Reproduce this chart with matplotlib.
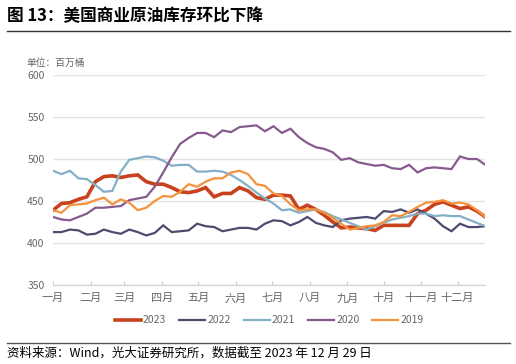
import numpy as np
import matplotlib
matplotlib.use("Agg")
import matplotlib.pyplot as plt

plt.rcParams['font.family'] = ['Noto Sans CJK SC', 'DejaVu Sans']

# weekly US commercial crude inventories, million barrels
years = ['2023', '2022', '2021', '2020', '2019']
v2023 = [439, 447, 448, 452, 455, 473, 479, 480, 478, 480, 481, 473, 470, 470, 466, 461,
         460, 462, 466, 455, 459, 459, 466, 462, 454, 452, 457, 457, 456, 440, 445, 440,
         433, 425, 418, 419, 418, 417, 415, 421, 421, 421, 421, 435, 439, 446, 449, 445,
         441, 443, 438, 431]
v2022 = [413, 413, 416, 415, 410, 411, 416, 413, 411, 416, 413, 409, 412, 421, 413, 414,
         415, 423, 420, 419, 414, 416, 418, 418, 416, 423, 427, 426, 421, 425, 431, 424,
         421, 419, 427, 429, 430, 431, 429, 438, 437, 440, 436, 440, 435, 429, 420, 414,
         423, 419, 419, 420]
v2021 = [486, 482, 486, 477, 476, 469, 461, 462, 485, 499, 501, 503, 502, 498, 492, 493,
         493, 485, 485, 486, 485, 481, 475, 468, 460, 453, 447, 439, 440, 436, 438, 440,
         437, 432, 428, 424, 420, 416, 420, 424, 428, 430, 432, 435, 435, 432, 433, 432,
         432, 428, 424, 420]
v2020 = [431, 428, 427, 431, 435, 442, 442, 443, 444, 451, 453, 455, 467, 484, 502, 518,
         525, 531, 531, 526, 534, 532, 538, 539, 540, 533, 539, 531, 536, 526, 519, 514,
         512, 508, 499, 501, 496, 494, 492, 493, 489, 488, 493, 484, 489, 490, 489, 488,
         503, 500, 500, 493]
v2019 = [439, 436, 445, 446, 447, 451, 454, 446, 452, 448, 439, 442, 450, 456, 455, 461,
         470, 467, 473, 477, 477, 484, 486, 482, 470, 468, 459, 456, 446, 439, 440, 440,
         436, 430, 423, 416, 418, 420, 421, 425, 433, 432, 437, 443, 448, 449, 451, 447,
         448, 446, 439, 431]
series = [v2023, v2022, v2021, v2020, v2019]
colors = ['#C8421E', '#4D4B70', '#82B0C6', '#87598F', '#F5923C']
widths = [2.6, 1.6, 1.6, 1.6, 1.6]

months = ['一月', '二月', '三月', '四月', '五月', '六月',
          '七月', '八月', '九月', '十月', '十一月', '十二月']
month_start_day = [0, 31, 59, 90, 120, 151, 181, 212, 243, 273, 304, 334]

fig = plt.figure(figsize=(5.16, 3.64), dpi=100)
ax = fig.add_axes([0.1027, 0.217, 0.838, 0.577])

weeks = np.arange(len(v2023))
for name, vals, c, lw in zip(years, series, colors, widths):
    ax.plot(weeks, vals, color=c, lw=lw, label=name, solid_joinstyle='miter')

ax.set_xlim(0, 51)
ax.set_ylim(350, 600)
ax.set_yticks(range(350, 601, 50))
ax.set_xticks(np.array(month_start_day) / 7)
ax.set_xticklabels(months)
ax.tick_params(axis='y', length=0, labelsize=7.5, labelcolor='#666666', pad=6)
ax.tick_params(axis='x', direction='in', length=3, color='#cccccc',
               labelsize=8, labelcolor='#666666', pad=6)
ax.grid(axis='y', color='#e3e3e3', lw=1)
ax.set_axisbelow(True)
for s in ['top', 'right', 'left']:
    ax.spines[s].set_visible(False)
ax.spines['bottom'].set_color('#d9d9d9')
ax.spines['bottom'].set_linewidth(1)

leg = ax.legend(loc='upper center', bbox_to_anchor=(0.5, -0.1), ncol=5,
                frameon=False, fontsize=7.5, handlelength=2.5, handletextpad=0.2,
                columnspacing=1.25)
for t in leg.get_texts():
    t.set_color('#666666')

fig.text(0.014, 0.957, '图 13：美国商业原油库存环比下降', fontsize=12,
         fontweight='bold', va='center', ha='left')
fig.add_artist(plt.Line2D([0.014, 0.988], [0.915, 0.915], color='#333333', lw=1))
fig.text(0.052, 0.826, '单位：百万桶', fontsize=7, color='#666666', va='center')
fig.add_artist(plt.Line2D([0.014, 0.988], [0.058, 0.058], color='#555555', lw=1))
fig.text(0.014, 0.03, '资料来源：Wind，光大证券研究所，数据截至 2023 年 12 月 29 日',
         fontsize=9, va='center', ha='left')

fig.savefig('out.png', dpi=100)
